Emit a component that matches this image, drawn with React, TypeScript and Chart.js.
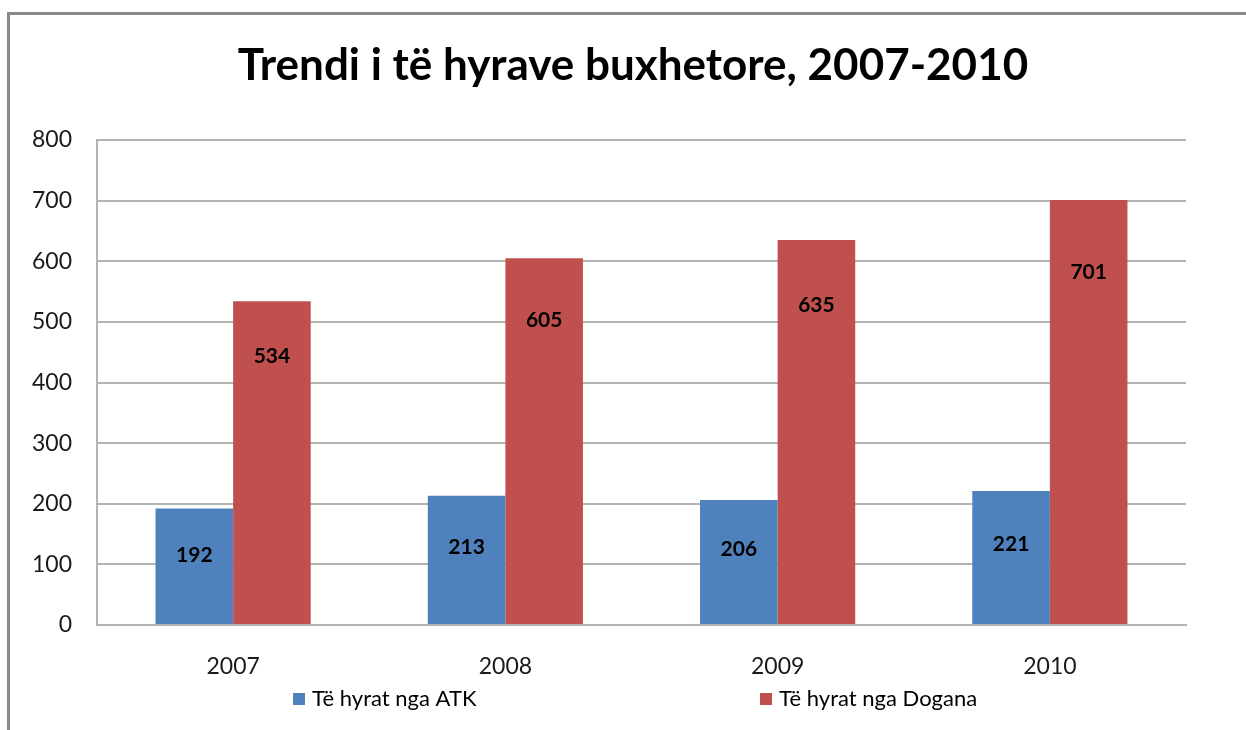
import React, { useEffect, useRef } from "react";
import { Chart, registerables } from "chart.js";

Chart.register(...registerables);

const TITLE = "Trendi i të hyrave buxhetore, 2007-2010";
const CATEGORIES = ["2007", "2008", "2009", "2010"];
const SERIES_NAMES = ["Të hyrat nga ATK", "Të hyrat nga Dogana"];
const ATK_VALUES = [192, 213, 206, 221];
const DOGANA_VALUES = [534, 605, 635, 701];
const Y_TICKS = [0, 100, 200, 300, 400, 500, 600, 700, 800];

const BLUE = "#4F81BD";
const RED = "#C0504D";
const FONT = "Lato, 'Open Sans', sans-serif";

const titlePlugin = {
  id: "customTitle",
  afterDraw(chart: any) {
    const ctx = chart.ctx;
    ctx.save();
    ctx.font = `bold 44px ${FONT}`;
    ctx.fillStyle = "#000";
    ctx.textAlign = "center";
    ctx.textBaseline = "middle";
    ctx.fillText(TITLE, 633, 66);
    ctx.restore();
  },
};

const labelPlugin = {
  id: "barLabels",
  afterDatasetsDraw(chart: any) {
    const ctx = chart.ctx;
    const fracs = [0.4, 0.17];
    ctx.save();
    ctx.font = `bold 21px ${FONT}`;
    ctx.fillStyle = "#000";
    ctx.textAlign = "center";
    ctx.textBaseline = "middle";
    chart.data.datasets.forEach((ds: any, di: number) => {
      const meta = chart.getDatasetMeta(di);
      meta.data.forEach((bar: any, i: number) => {
        const top = bar.y;
        const bottom = bar.base;
        const y = top + fracs[di] * (bottom - top);
        ctx.fillText(String(ds.data[i]), bar.x, y);
      });
    });
    ctx.restore();
  },
};

const legendPlugin = {
  id: "customLegend",
  afterDraw(chart: any) {
    const ctx = chart.ctx;
    const xs = [293, 760];
    const yc = 699;
    ctx.save();
    ctx.font = `22px ${FONT}`;
    ctx.textAlign = "left";
    ctx.textBaseline = "middle";
    chart.data.datasets.forEach((ds: any, di: number) => {
      ctx.fillStyle = ds.backgroundColor;
      ctx.fillRect(xs[di], yc - 6, 12, 12);
      ctx.fillStyle = "#000";
      ctx.fillText(ds.label, xs[di] + 19, yc);
    });
    ctx.restore();
  },
};

export default function App() {
  const ref = useRef<HTMLCanvasElement | null>(null);

  useEffect(() => {
    if (!ref.current) return;
    const chart = new Chart(ref.current, {
      type: "bar",
      data: {
        labels: CATEGORIES,
        datasets: [
          { label: SERIES_NAMES[0], data: ATK_VALUES, backgroundColor: BLUE, borderWidth: 0 },
          { label: SERIES_NAMES[1], data: DOGANA_VALUES, backgroundColor: RED, borderWidth: 0 },
        ],
      },
      options: {
        responsive: false,
        animation: false,
        devicePixelRatio: 1,
        layout: { padding: { left: 0, right: 60, top: 140, bottom: 35 } },
        datasets: { bar: { categoryPercentage: 0.57, barPercentage: 1 } },
        plugins: {
          legend: { display: false },
          title: { display: false },
          tooltip: { enabled: false },
        },
        scales: {
          x: {
            grid: { display: false, drawTicks: false },
            border: { display: true, color: "#b4b4b4", width: 2 },
            ticks: { color: "#1a1a1a", font: { family: FONT, size: 23 }, padding: 28 },
            afterFit(scale: any) {
              scale.height = 70;
            },
          },
          y: {
            min: 0,
            max: 800,
            afterBuildTicks(scale: any) {
              scale.ticks = Y_TICKS.map((v) => ({ value: v }));
            },
            grid: { color: "#b4b4b4", lineWidth: 2, drawTicks: false },
            border: { display: true, color: "#b4b4b4", width: 2 },
            ticks: { color: "#1a1a1a", font: { family: FONT, size: 23 }, padding: 25 },
            afterFit(scale: any) {
              scale.width = 97;
            },
          },
        },
      },
      plugins: [titlePlugin, labelPlugin, legendPlugin],
    });
    return () => chart.destroy();
  }, []);

  return (
    <div style={{ position: "absolute", left: 0, top: 0, width: 1246, height: 730, overflow: "hidden", background: "#fff" }}>
      <div
        style={{
          position: "absolute",
          left: 7,
          top: 12,
          width: 1400,
          height: 900,
          borderLeft: "3px solid #8a8a8a",
          borderTop: "3px solid #8a8a8a",
        }}
      />
      <canvas ref={ref} width={1246} height={730} style={{ position: "absolute", left: 0, top: 0, display: "block" }} />
    </div>
  );
}
